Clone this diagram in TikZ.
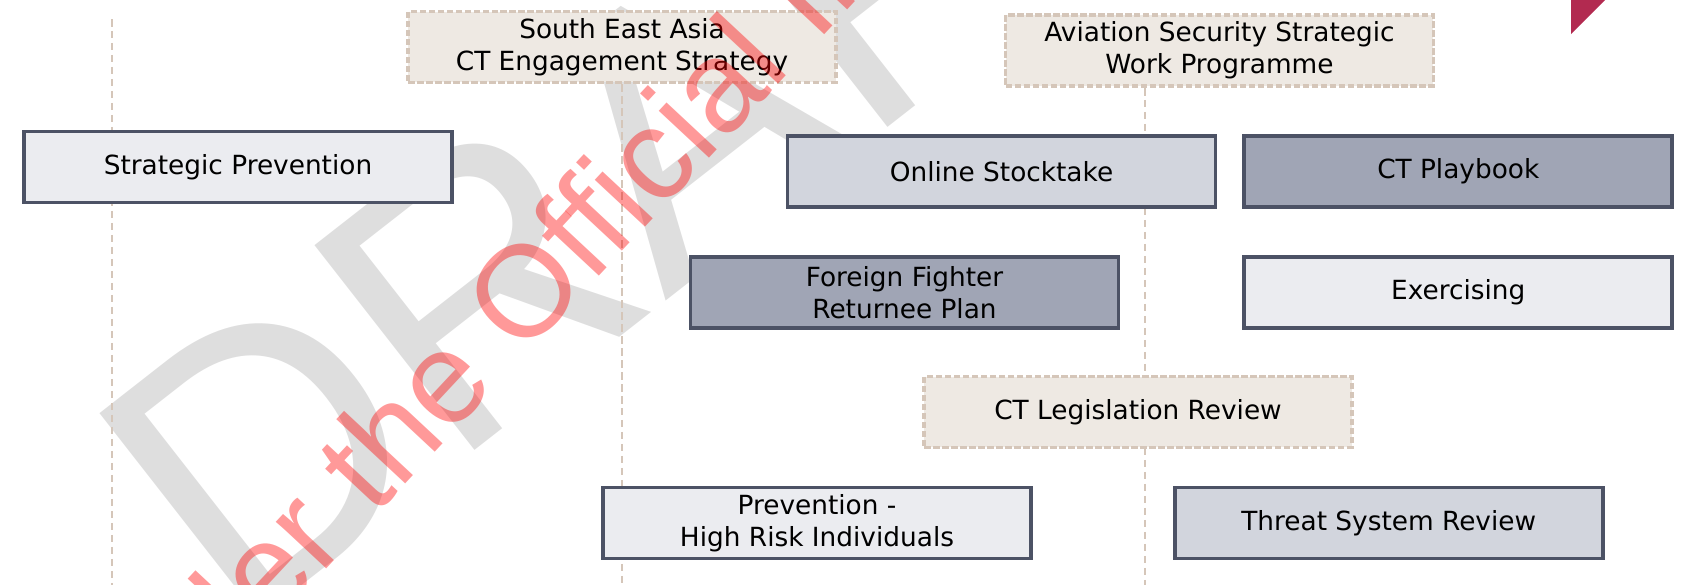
\documentclass[tikz,border=0pt]{standalone}
\usepackage{fontspec}
\setmainfont{DejaVu Sans}
\newfontfamily\wmfont{Liberation Sans}
\usetikzlibrary{positioning}
\definecolor{boxedge}{HTML}{4C5265}
\definecolor{palefill}{HTML}{EBECF0}
\definecolor{midfill}{HTML}{D2D5DD}
\definecolor{darkfill}{HTML}{A0A5B5}
\definecolor{sandfill}{HTML}{EEE9E3}
\definecolor{sandline}{HTML}{D5C6B9}
\definecolor{wmgrey}{HTML}{DEDEDE}
\definecolor{cornerred}{HTML}{B22A50}

\begin{document}
\begin{tikzpicture}[
    x=0.02cm, y=-0.02cm,
    node distance=0.92cm and 0.5cm,
    task/.style={draw=boxedge, line width=2.2pt, minimum width=8.56cm, minimum height=1.42cm,
      align=center, font=\fontsize{15}{18}\selectfont},
    plan/.style={task, draw=sandline, fill=sandfill, line width=1.8pt, dash pattern=on 0.13cm off 0.05cm},
    guide/.style={draw=sandline, line width=1.5pt, dash pattern=on 0.15cm off 0.09cm}
  ]

  \useasboundingbox (0,0) rectangle (1684,585);

  % watermark behind
  \begin{scope}
    \clip (0,0) rectangle (1684,585);
    \node (draft) [anchor=base west, inner sep=0pt, rotate=38, text=wmgrey,
      font=\wmfont\fontsize{215}{215}\selectfont] at (235,638) {DRAFT};
  \end{scope}

  \coordinate (g1top) at (112,19);
  \coordinate (g1bot) at (112,585);
  \coordinate (g3top) at (1145,88);
  \coordinate (g3bot) at (1145,585);

  \node (sea) [plan] at (622,47) {South East Asia\\CT Engagement Strategy};
  \node (avi) [plan] at (1219.5,50.5) {Aviation Security Strategic\\Work Programme};

  \draw[guide] (g1top) -- (g1bot);
  \draw[guide] (sea.south) -- (sea.south |- g1bot);
  \draw[guide] (g3top) -- (g3bot);

  \node (strat) [task, fill=palefill] at (238,167) {Strategic Prevention};
  \node (online) [task, fill=midfill] at (1001.5,171.5) {Online Stocktake};
  \node (playbook) [task, fill=darkfill, right=of online] {CT Playbook};
  \node (exercise) [task, fill=palefill, below=of playbook] {Exercising};
  \node (foreign) [task, fill=darkfill] at (904.5,292.5) {Foreign Fighter\\Returnee Plan};
  \node (legis) [plan] at (1138,412) {CT Legislation Review};
  \node (hri) [task, fill=palefill] at (817,523) {Prevention -\\High Risk Individuals};
  \node (threat) [task, fill=midfill, right=2.8cm of hri] {Threat System Review};

  % watermark on top
  \begin{scope}
    \clip (0,0) rectangle (1684,585);
    \node (oia) [anchor=base west, inner sep=0pt, rotate=47, text=red, text opacity=0.4,
      font=\wmfont\fontsize{74}{74}\selectfont] at (-276,1215) {Released under the Official Information Act};
    \fill[cornerred] (1571,-2) -- (1571,34) -- (1607,-2) -- cycle;
  \end{scope}

\end{tikzpicture}
\end{document}
